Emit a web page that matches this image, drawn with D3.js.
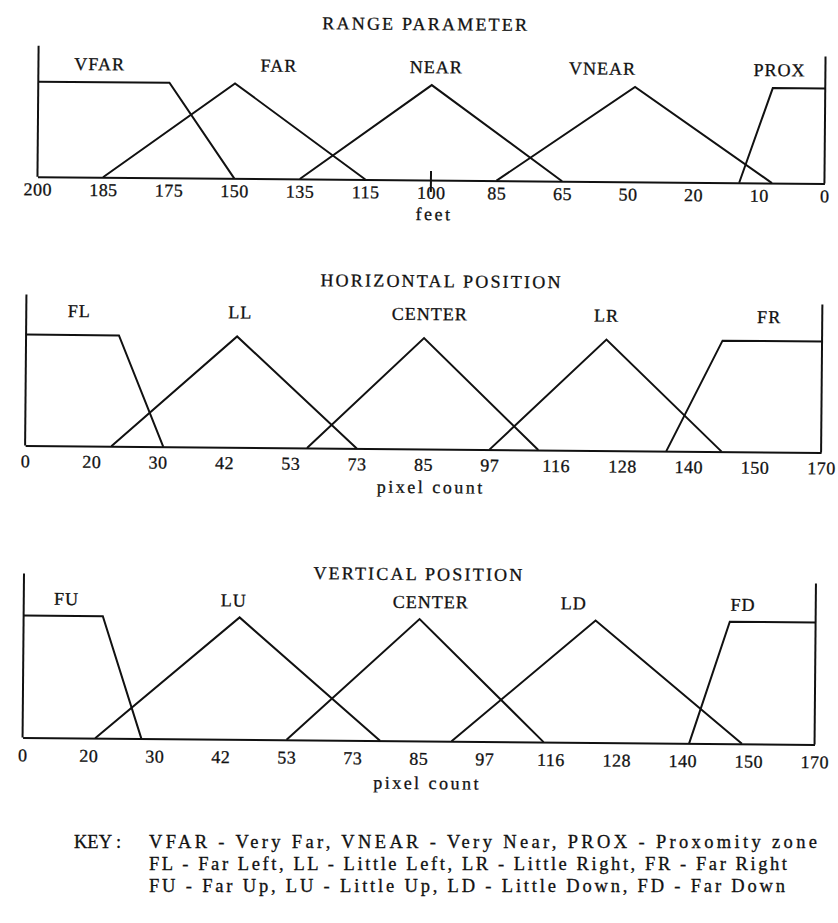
<!DOCTYPE html>
<html>
<head>
<meta charset="utf-8">
<script src="https://cdn.jsdelivr.net/npm/d3@7"></script>
<style>
  body { margin: 0; background: #fff; }
  svg { display: block; }
  text { font-family: "Liberation Serif", "Times New Roman", serif; fill: #111; stroke: #111; stroke-width: 0.3px; }
  .shape { fill: none; stroke: #111; stroke-width: 2; stroke-linejoin: miter; }
  .frame { stroke: #111; stroke-width: 2; fill: none; }
</style>
</head>
<body>
<svg id="figure" width="838" height="923"></svg>
<script>
// range parameter, feet (tick labels sit evenly spaced on the page)
const rangeTicks = [200, 185, 175, 150, 135, 115, 100, 85, 65, 50, 20, 10, 0];
const rangeSets = ["VFAR", "FAR", "NEAR", "VNEAR", "PROX"];
const rangeShapes = [
  [[200, 1], [175, 1], [150, 0]],
  [[185, 0], [150, 1], [115, 0]],
  [[135, 0], [100, 1], [65, 0]],
  [[85, 0], [47, 1], [8, 0]],
  [[13, 0], [8, 1], [0, 1]]
];

// horizontal / vertical position, pixel count
const pixelTicks = [0, 20, 30, 42, 53, 73, 85, 97, 116, 128, 140, 150, 170];
const horizSets = ["FL", "LL", "CENTER", "LR", "FR"];
const horizShapes = [
  [[0, 1], [24, 1], [31, 0]],
  [[23, 0], [44, 1], [73, 0]],
  [[58, 0], [85, 1], [111, 0]],
  [[97, 0], [125, 1], [145, 0]],
  [[136, 0], [145, 1], [170, 1]]
];
const vertSets = ["FU", "LU", "CENTER", "LD", "FD"];
const vertShapes = [
  [[0, 1], [22, 1], [28, 0]],
  [[21, 0], [45, 1], [78, 0]],
  [[53, 0], [85, 1], [114, 0]],
  [[91, 0], [124, 1], [149, 0]],
  [[141, 0], [147, 1], [170, 1]]
];

const keyHead = "KEY :";
const keyLines = [
  "VFAR - Very Far, VNEAR - Very Near, PROX - Proxomity zone",
  "FL - Far Left, LL - Little Left, LR - Little Right, FR - Far Right",
  "FU - Far Up, LU - Little Up, LD - Little Down, FD - Far Down"
];

/** One membership-function panel. */
class FuzzyPanel {
  /**
   * @param root parent selection
   * @param opts layout of the panel
   */
  constructor(root, opts) {
    this.root = root;
    this.opts = opts;
  }

  /**
   * Draws axes, tick labels and the membership shapes
   */
  draw(ticks, sets, shapes) {
    let o = this.opts;
    let step = (o.x1 - o.x0) / (ticks.length - 1);

    // piecewise scale: every tick label gets the same spacing
    let x = d3.scaleLinear()
      .domain(ticks)
      .range(ticks.map((d, i) => o.x0 + i * step));
    let y = d3.scaleLinear()
      .domain([0, 1])
      .range([o.base, o.base - o.h]);

    let g = this.root.append("g");

    g.append("text")
      .attr("x", o.titleX)
      .attr("y", o.titleY)
      .attr("text-anchor", "middle")
      .style("font-size", "18px")
      .style("letter-spacing", "2.2px")
      .text(o.title);

    // baseline + tick labels
    let axis = g.append("g")
      .attr("transform", "translate(0," + o.base + ")")
      .call(d3.axisBottom(x).tickValues(ticks).tickSizeInner(0).tickSizeOuter(0).tickPadding(o.tickPad));
    axis.select(".domain")
      .attr("class", "frame")
      ;
    axis.selectAll(".tick text")
      .attr("fill", "#111")
      .style("font-family", "'Liberation Serif', serif")
      .style("font-size", "18px")
      .style("letter-spacing", "0.5px")
      ;

    // left and right uprights
    g.append("line")
      .attr("class", "frame")
      .attr("x1", o.x0).attr("x2", o.x0)
      .attr("y1", o.topL).attr("y2", o.base);
    g.append("line")
      .attr("class", "frame")
      .attr("x1", o.x1).attr("x2", o.x1)
      .attr("y1", o.topR).attr("y2", o.base);

    if (o.markAt !== undefined) {
      g.append("line")
        .attr("class", "frame")
        .attr("x1", x(o.markAt)).attr("x2", x(o.markAt))
        .attr("y1", o.base - 9).attr("y2", o.base + 12);
    }

    let line = d3.line()
      .x(d => x(d[0]))
      .y(d => y(d[1]));

    g.selectAll("path.shape")
      .data(shapes)
      .enter()
      .append("path")
      .attr("class", "shape")
      .attr("d", line)
      ;

    g.selectAll("text.set")
      .data(sets)
      .enter()
      .append("text")
      .attr("class", "set")
      .attr("x", (d, i) => x(o.labelAt[i]))
      .attr("y", o.labelY)
      .attr("text-anchor", "middle")
      .style("font-size", "18px")
      .style("letter-spacing", "1px")
      .text(d => d)
      ;

    g.append("text")
      .attr("x", o.unitX)
      .attr("y", o.unitY)
      .attr("text-anchor", "middle")
      .style("font-size", "18px")
      .style("letter-spacing", "2.5px")
      .text(o.unit);
  }
}

let svg = d3.select("#figure");
// the scan is turned a little clockwise
let page = svg.append("g").attr("transform", "rotate(0.5 419 460)");

new FuzzyPanel(page, {
  title: "RANGE PARAMETER", titleX: 422, titleY: 30,
  x0: 35, x1: 822, base: 180, h: 95, topL: 49, topR: 53,
  tickPad: 6, labelY: 73, labelAt: [186, 140, 99, 56, 7],
  unit: "feet", unitX: 432, unitY: 220, markAt: 100
}).draw(rangeTicks, rangeSets, rangeShapes);

new FuzzyPanel(page, {
  title: "HORIZONTAL POSITION", titleX: 440, titleY: 287,
  x0: 25, x1: 821, base: 449, h: 111, topL: 298, topR: 301,
  tickPad: 9, labelY: 320, labelAt: [16, 44.5, 86, 125, 154],
  unit: "pixel count", unitX: 431, unitY: 493
}).draw(pixelTicks, horizSets, horizShapes);

new FuzzyPanel(page, {
  title: "VERTICAL POSITION", titleX: 420, titleY: 580,
  x0: 25, x1: 817, base: 741, h: 122, topL: 577, topR: 580,
  tickPad: 11, labelY: 608, labelAt: [13, 44, 87, 120, 149],
  unit: "pixel count", unitX: 430, unitY: 789
}).draw(pixelTicks, vertSets, vertShapes);

// key underneath (kept level so the lines do not crowd each other)
let key = svg.append("g").style("font-size", "18.5px");
key.append("text")
  .attr("x", 74)
  .attr("y", 848)
  .text(keyHead);
let keyWidths = [668, 638, 636];
key.selectAll("text.line")
  .data(keyLines)
  .enter()
  .append("text")
  .attr("class", "line")
  .attr("x", 149)
  .attr("y", (d, i) => 848 + i * 22)
  .attr("textLength", (d, i) => keyWidths[i])
  .attr("lengthAdjust", "spacing")
  .text(d => d)
  ;
</script>
</body>
</html>
